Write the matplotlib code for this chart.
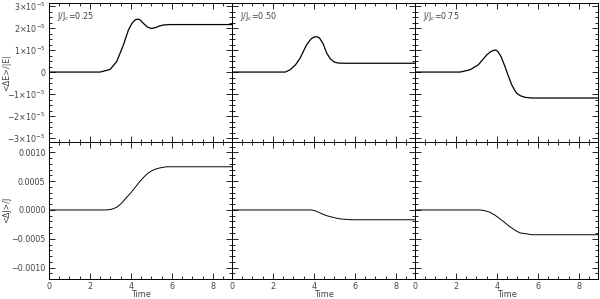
import numpy as np
import matplotlib.pyplot as plt
from matplotlib.ticker import MultipleLocator, FuncFormatter

ratios = ["0.25", "0.50", "0.75"]

# <dE>/|E| curves, values in units of 1e-5
t_e1 = [0.0, 2.5, 2.98, 3.3, 3.63, 3.87, 4.05, 4.2, 4.33, 4.45, 4.6, 4.8, 5.0, 5.2, 5.4, 5.6, 5.9, 7.0, 8.93]
e1 = [0.0, 0.0, 0.12, 0.47, 1.23, 1.9, 2.22, 2.37, 2.41, 2.37, 2.22, 2.05, 1.98, 2.02, 2.1, 2.14, 2.16, 2.16, 2.16]
t_e2 = [0.0, 2.6, 2.83, 3.1, 3.32, 3.64, 3.85, 4.0, 4.13, 4.27, 4.45, 4.62, 4.8, 5.0, 5.18, 5.5, 7.0, 8.93]
e2 = [0.0, 0.0, 0.1, 0.33, 0.63, 1.24, 1.5, 1.59, 1.61, 1.55, 1.28, 0.86, 0.6, 0.45, 0.41, 0.4, 0.4, 0.4]
t_e3 = [0.0, 2.2, 2.68, 3.09, 3.3, 3.5, 3.7, 3.85, 3.94, 4.05, 4.2, 4.39, 4.55, 4.72, 4.85, 4.96, 5.15, 5.37, 5.7, 7.0, 8.93]
e3 = [0.0, 0.0, 0.1, 0.33, 0.56, 0.78, 0.93, 0.99, 1.0, 0.93, 0.7, 0.25, -0.17, -0.58, -0.8, -0.96, -1.08, -1.15, -1.18, -1.18, -1.18]

# <dJ>/J curves
t_j1 = [0.0, 2.81, 3.05, 3.3, 3.55, 3.79, 4.0, 4.2, 4.4, 4.6, 4.8, 5.01, 5.2, 5.41, 5.74, 7.0, 8.93]
j1 = [0.0, 0.0, 0.000012, 0.000045, 0.00012, 0.00022, 0.0003, 0.00039, 0.00048, 0.00056, 0.00063, 0.00068, 0.00071, 0.00073, 0.00075, 0.00075, 0.00075]
t_j2 = [0.0, 3.89, 4.1, 4.35, 4.62, 4.95, 5.27, 5.84, 7.0, 8.93]
j2 = [0.0, 0.0, -0.00002, -0.00006, -0.0001, -0.00013, -0.000155, -0.00017, -0.00017, -0.00017]
t_j3 = [0.0, 3.17, 3.4, 3.66, 3.9, 4.15, 4.35, 4.55, 4.75, 4.96, 5.15, 5.37, 5.7, 7.0, 8.93]
j3 = [0.0, 0.0, -0.000012, -0.00004, -0.00009, -0.000155, -0.00021, -0.00027, -0.00032, -0.00037, -0.0004, -0.00041, -0.00043, -0.00043, -0.00043]

top_t = [t_e1, t_e2, t_e3]
top_v = [e1, e2, e3]
bot_t = [t_j1, t_j2, t_j3]
bot_v = [j1, j2, j3]


def efmt(v, pos):
    n = int(round(v))
    if n == 0:
        return "0"
    return ("\u2212" if n < 0 else "") + f"{abs(n)}\u00d710$^{{\u22125}}$"


def jfmt(v, pos):
    s = f"{abs(v):.4f}"
    if v < -1e-9:
        s = "\u2212" + s
    return s


fig = plt.figure(figsize=(6, 2.99), dpi=100)
x0, w = 49 / 600, 183 / 600
ytop, ymid, ybot = 1 - 3 / 299, 1 - 142 / 299, 1 - 278.5 / 299
tc = "#444444"
fs = 5.8

for i in range(3):
    ax1 = fig.add_axes([x0 + i * w, ymid, w, ytop - ymid])
    ax2 = fig.add_axes([x0 + i * w, ybot, w, ymid - ybot])
    ax1.plot(top_t[i], top_v[i], color="k", lw=0.9)
    ax2.plot(bot_t[i], bot_v[i], color="k", lw=0.7)
    ax1.set_ylim(-3.18, 3.14)
    ax2.set_ylim(-0.00119, 0.00118)
    ax1.text(0.045, 0.9, f"J/J$_c$={ratios[i]}", transform=ax1.transAxes,
             fontsize=fs, color=tc, va="center")
    for ax in (ax1, ax2):
        ax.set_xlim(0, 8.93)
        ax.xaxis.set_major_locator(MultipleLocator(2))
        ax.xaxis.set_minor_locator(MultipleLocator(0.5))
        ax.tick_params(which="both", direction="in", top=True, right=True,
                       labelsize=fs, labelcolor=tc, width=0.6, pad=2.5)
        ax.tick_params(which="major", length=4)
        ax.tick_params(which="minor", length=2)
        for s in ax.spines.values():
            s.set_linewidth(0.7)
    ax1.yaxis.set_major_locator(MultipleLocator(1))
    ax1.yaxis.set_minor_locator(MultipleLocator(0.25))
    ax2.yaxis.set_major_locator(MultipleLocator(0.0005))
    ax2.yaxis.set_minor_locator(MultipleLocator(0.0001))
    ax1.tick_params(labelbottom=False)
    ax2.set_xlabel("Time", fontsize=fs, color=tc, labelpad=-0.5)
    if i == 0:
        ax1.yaxis.set_major_formatter(FuncFormatter(efmt))
        ax2.yaxis.set_major_formatter(FuncFormatter(jfmt))
    else:
        ax1.tick_params(labelleft=False)
        ax2.tick_params(labelleft=False)

fig.text(7 / 600, (ytop + ymid) / 2, "<\u0394E>/|E|", rotation=90,
         fontsize=fs, color=tc, ha="center", va="center")
fig.text(7 / 600, (ymid + ybot) / 2, "<\u0394J>/J", rotation=90,
         fontsize=fs, color=tc, ha="center", va="center")

fig.savefig("out.png", dpi=100)
